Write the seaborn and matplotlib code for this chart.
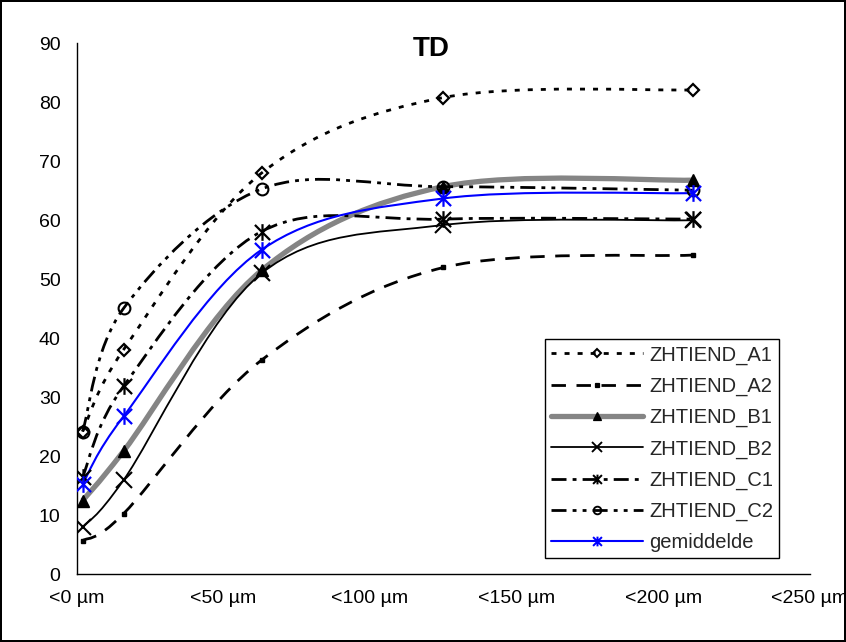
import numpy as np
import matplotlib
matplotlib.use("Agg")
import matplotlib.pyplot as plt
import seaborn as sns
from matplotlib.path import Path
from matplotlib.patches import PathPatch
from matplotlib.lines import Line2D

# ---------------- data ----------------
sizes = [2, 16, 63, 125, 210]
xtick_values = [0, 50, 100, 150, 200, 250]
xtick_labels = ["<0 µm", "<50 µm", "<100 µm", "<150 µm", "<200 µm", "<250 µm"]
ytick_values = [0, 10, 20, 30, 40, 50, 60, 70, 80, 90]
series_names = ["ZHTIEND_A1", "ZHTIEND_A2", "ZHTIEND_B1", "ZHTIEND_B2",
                "ZHTIEND_C1", "ZHTIEND_C2", "gemiddelde"]
a1 = [24.2, 38.1, 68.0, 80.8, 82.1]
a2 = [5.7, 10.3, 36.3, 52.0, 54.1]
b1 = [12.5, 20.9, 51.5, 65.7, 66.8]
b2 = [8.0, 16.0, 51.0, 59.2, 60.0]
c1 = [16.5, 31.9, 58.1, 60.2, 60.2]
c2 = [24.2, 45.1, 65.3, 65.7, 65.1]
gem = [15.3, 26.8, 55.0, 63.7, 64.6]
chart_title = "TD"

# ---------------- style ----------------
sns.set_style("white")
plt.rcParams["font.family"] = ["Liberation Sans", "DejaVu Sans"]

star = Path([(-1, -1), (1, 1), (-1, 1), (1, -1), (0, -1.1), (0, 1.1)],
            [Path.MOVETO, Path.LINETO, Path.MOVETO, Path.LINETO, Path.MOVETO, Path.LINETO])

styles = [
    dict(color="black", lw=2.0, ls=(0, (1.8, 2.9)), marker="D", ms=6.5, mfc="none", mew=1.6, lms=4.5),
    dict(color="black", lw=2.0, ls=(0, (5.2, 3.8)), marker="s", ms=3.5, mfc="black", mew=1.0, lms=3.0),
    dict(color="#858585", lw=3.8, ls="-", marker="^", ms=8.5, mfc="black", mec="black", mew=1.0, lms=6.0),
    dict(color="black", lw=1.3, ls="-", marker="x", ms=11, mfc="none", mew=1.5, lms=6.5),
    dict(color="black", lw=2.0, ls=(0, (5.4, 2.2, 1.4, 2.2)), marker=star, ms=12, mfc="none", mew=1.6, lms=7.0),
    dict(color="black", lw=2.0, ls=(0, (5.4, 2.2, 1.4, 2.2, 1.4, 2.2)), marker="o", ms=8.5, mfc="none", mew=1.5, lms=5.5),
    dict(color="#0000FF", lw=1.5, ls="-", marker=star, ms=12, mfc="none", mew=1.6, lms=7.0),
]
all_values = [a1, a2, b1, b2, c1, c2, gem]


def smooth_path(xs, ys):
    pts = np.column_stack([xs, ys]).astype(float)
    n = len(pts)
    verts = [pts[0]]
    codes = [Path.MOVETO]
    for i in range(n - 1):
        p0 = pts[i - 1] if i > 0 else pts[i]
        p1 = pts[i]
        p2 = pts[i + 1]
        p3 = pts[i + 2] if i + 2 < n else pts[i + 1]
        verts += [p1 + (p2 - p0) / 6.0, p2 - (p3 - p1) / 6.0, p2]
        codes += [Path.CURVE4] * 3
    return Path(verts, codes)


fig = plt.figure(figsize=(8.46, 6.42), dpi=100)
fig.patch.set_facecolor("white")
fig.patch.set_edgecolor("black")
fig.patch.set_linewidth(1.5)
ax = fig.add_axes([0.0907, 0.1054, 0.8668, 0.8272])

handles = []
for name, vals, st in zip(series_names, all_values, styles):
    patch = PathPatch(smooth_path(sizes, vals), fill=False, edgecolor=st["color"],
                      linewidth=st["lw"], linestyle=st["ls"], joinstyle="round",
                      capstyle="butt", zorder=2)
    ax.add_patch(patch)
    mec = st.get("mec", st["color"]) if st["color"] != "#858585" else "black"
    sns.lineplot(x=sizes, y=vals, ax=ax, linestyle="", marker=st["marker"],
                 markersize=st["ms"], markerfacecolor=st["mfc"], markeredgecolor=mec,
                 markeredgewidth=st["mew"], color=mec, legend=False, zorder=3)
    handles.append(Line2D([], [], color=st["color"], lw=st["lw"], linestyle=st["ls"],
                          marker=st["marker"], markersize=st["lms"], markerfacecolor=st["mfc"],
                          markeredgecolor=mec, markeredgewidth=st["mew"] * 0.9,
                          dash_capstyle="butt"))

ax.set_xlim(0, 250)
ax.set_ylim(0, 90)
ax.set_xticks(xtick_values)
ax.set_xticklabels(xtick_labels)
ax.set_yticks(ytick_values)
ax.tick_params(axis="both", direction="out", length=3.6, width=1, color="black",
               labelsize=14, pad=8.0, labelcolor="black")
for s in ["top", "right"]:
    ax.spines[s].set_visible(False)
for s in ["left", "bottom"]:
    ax.spines[s].set_color("black")
    ax.spines[s].set_linewidth(1.0)
ax.set_xlabel("")
ax.set_ylabel("")

leg = ax.legend(handles, series_names, loc="upper left", bbox_to_anchor=(0.638, 0.4426),
                borderaxespad=0, fontsize=14.5, frameon=True, fancybox=False,
                edgecolor="black", framealpha=1, handlelength=4.6, handletextpad=0.3,
                labelspacing=0.6, borderpad=0.3)
leg.get_frame().set_linewidth(1.0)

fig.text(0.510, 0.9128, chart_title, ha="center", va="baseline", fontsize=20,
         fontweight="bold", color="black")

fig.savefig("out.png", dpi=100, facecolor=fig.get_facecolor(), edgecolor=fig.get_edgecolor())
